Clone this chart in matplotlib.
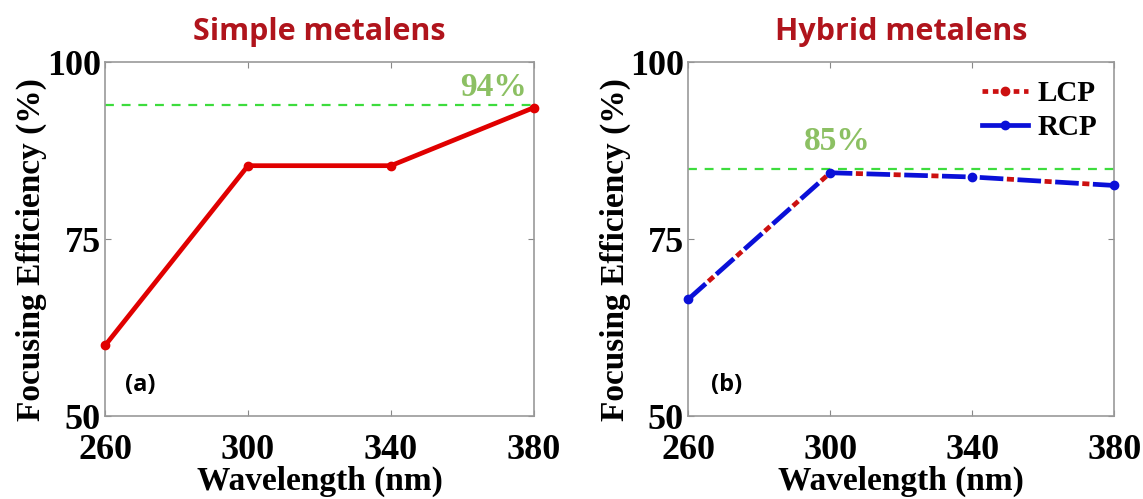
import matplotlib
matplotlib.use("Agg")
import matplotlib.pyplot as plt

# data
wavelength = [260, 300, 340, 380]
simple_eff = [60, 85.4, 85.4, 93.6]
lcp_eff = [66.5, 84.4, 83.8, 82.6]
rcp_eff = [66.5, 84.4, 83.8, 82.6]
simple_max = 94
hybrid_max = 85

serif = ['Liberation Serif', 'DejaVu Serif']
sans = ['Open Sans', 'DejaVu Sans']
title_red = '#b0141c'
green_txt = '#8cc063'
green_line = '#3ddc3d'
blue = '#0a10d8'
red = '#cc1010'

fig = plt.figure(figsize=(11.43, 4.99), dpi=100)
ax1 = fig.add_axes([0.092, 0.166, 0.375, 0.709])
ax2 = fig.add_axes([0.602, 0.166, 0.373, 0.709])


def style(ax):
    ax.set_xlim(260, 380)
    ax.set_ylim(50, 100)
    ax.set_xticks([260, 300, 340, 380])
    ax.set_yticks([50, 75, 100])
    ax.tick_params(axis='both', direction='in', top=True, right=True, length=4,
                   width=0.8, color='#888888')
    ax.tick_params(axis='x', pad=13)
    ax.tick_params(axis='y', pad=3)
    for lab in ax.get_xticklabels() + ax.get_yticklabels():
        lab.set_fontfamily(serif)
        lab.set_fontweight('bold')
        lab.set_fontsize(26)
    for s in ax.spines.values():
        s.set_color('#999999')
        s.set_linewidth(1.2)
    ax.set_xlabel('Wavelength (nm)', fontfamily=serif, fontweight='bold',
                  fontsize=24)
    ax.set_ylabel('Focusing Efficiency (%)', fontfamily=serif, fontweight='bold',
                  fontsize=24)
    ax.xaxis.set_label_coords(0.5, -0.14)
    ax.yaxis.set_label_coords(-0.135, 0.47)


# (a) simple metalens
ax1.axhline(simple_max, color=green_line, ls=(0, (4, 3.5)), lw=1.6, zorder=1)
ax1.plot(wavelength, simple_eff, color='#e00000', lw=3.4, marker='o', ms=6,
         clip_on=False, zorder=3)
ax1.text(378, simple_max + 0.3, '94%', color=green_txt, fontfamily=serif,
         fontweight='bold', fontsize=24, ha='right', va='bottom')
ax1.text(265.5, 54.4, '(a)', fontfamily=sans, fontweight='bold', fontsize=17,
         va='center')
ax1.set_title('Simple metalens', color=title_red, fontfamily=sans,
              fontweight='bold', fontsize=22, pad=16)
style(ax1)

# (b) hybrid metalens: blue dashes with red dots in the gaps
ax2.axhline(hybrid_max, color=green_line, ls=(0, (4, 3.5)), lw=1.6, zorder=1)
ax2.plot(wavelength, rcp_eff, color=blue, lw=3.4, ls=(0, (5, 3)),
         clip_on=False, zorder=3)
ax2.plot(wavelength, lcp_eff, color=red, lw=3.4, ls=(2.25, (1.5, 6.5)),
         clip_on=False, zorder=4)
ax2.plot(wavelength, rcp_eff, ls='none', marker='o', ms=6, color=blue,
         clip_on=False, zorder=5)
ax2.text(302, hybrid_max + 1.6, '85%', color=green_txt, fontfamily=serif,
         fontweight='bold', fontsize=24, ha='center', va='bottom')
ax2.text(266.5, 54.4, '(b)', fontfamily=sans, fontweight='bold', fontsize=17,
         va='center')
ax2.set_title('Hybrid metalens', color=title_red, fontfamily=sans,
              fontweight='bold', fontsize=22, pad=16)

# legend entries
h1, = ax2.plot([], [], color=red, lw=3.4, ls=(0, (1.2, 1.0)),
               marker='o', ms=6, label='LCP')
h2, = ax2.plot([], [], color=blue, lw=3.4, ls='-',
               marker='o', ms=6, label='RCP')
ax2.legend(handles=[h1, h2], loc='upper right', frameon=False,
           prop={'family': serif, 'weight': 'bold', 'size': 21},
           handlelength=1.6, handletextpad=0.3, borderaxespad=0.2,
           labelspacing=0.25)
style(ax2)

fig.savefig('out.png', dpi=100)
